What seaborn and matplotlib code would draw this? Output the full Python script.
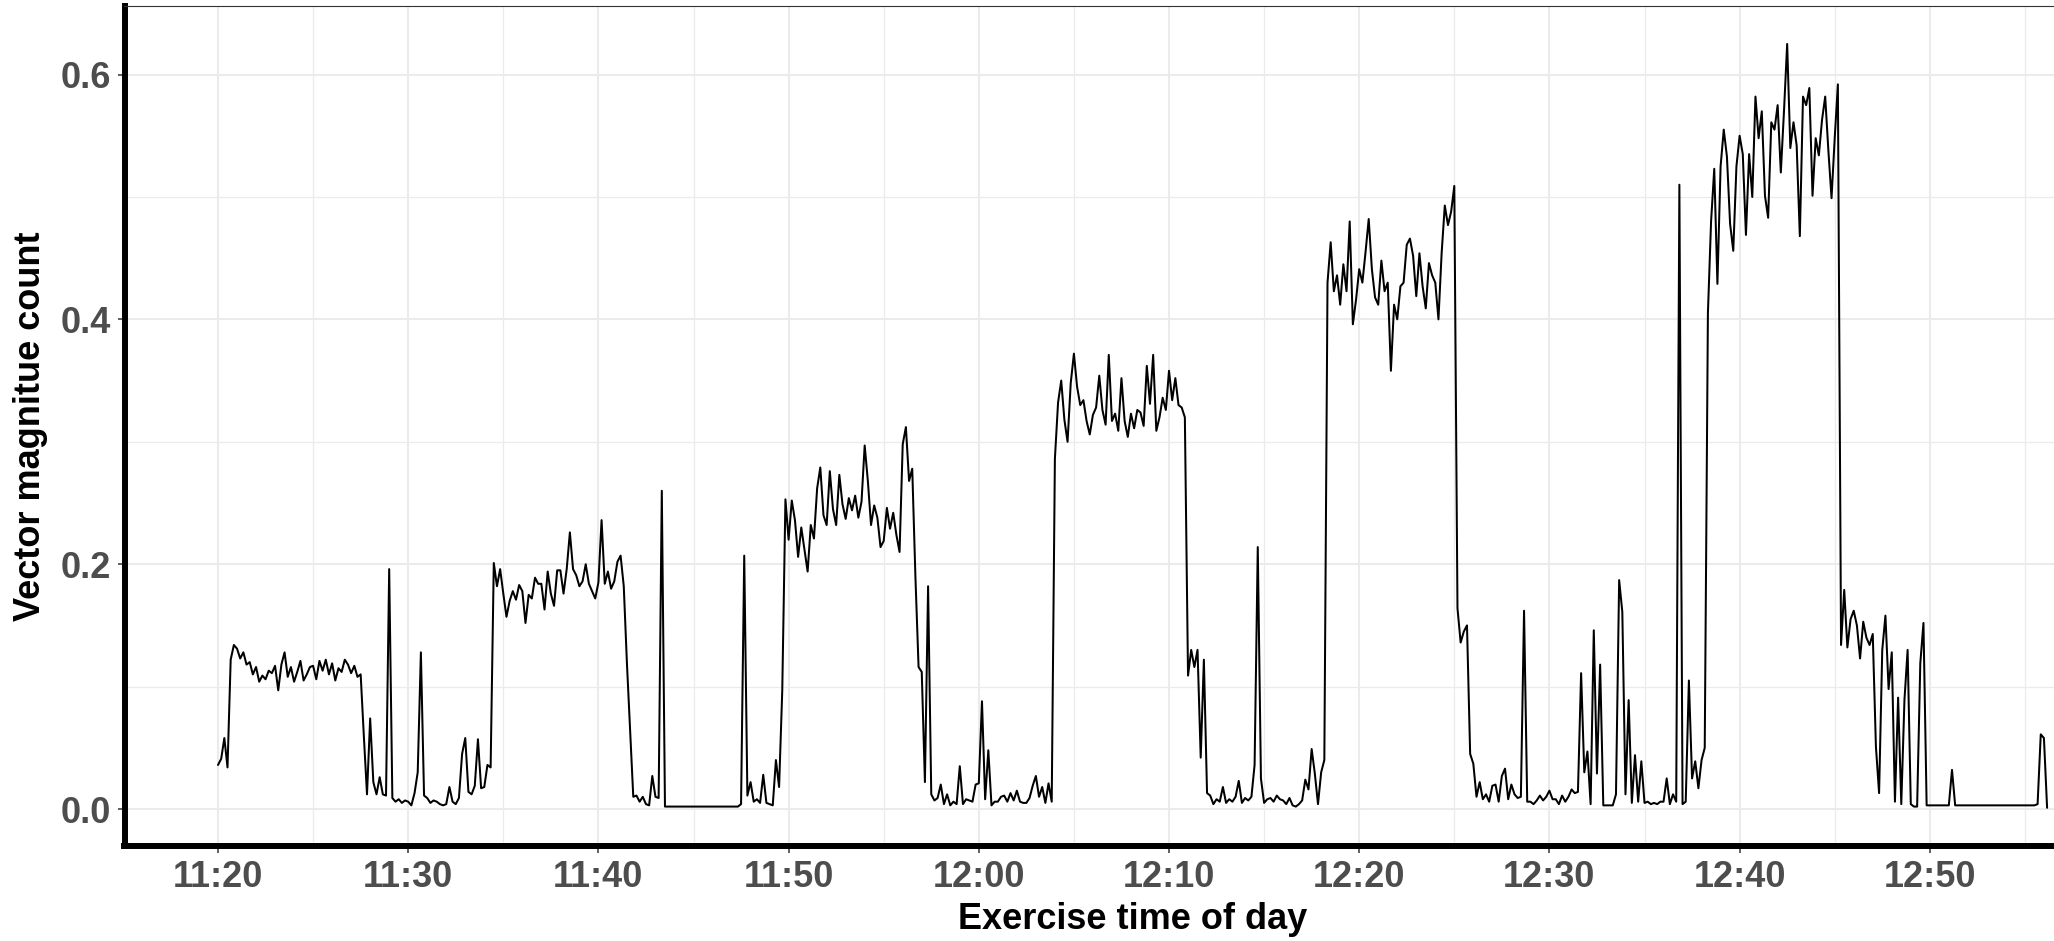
import numpy as np
import pandas as pd
import matplotlib
matplotlib.use('Agg')
import matplotlib.pyplot as plt
import matplotlib.dates as mdates
from matplotlib.ticker import FixedLocator, FormatStrFormatter
import seaborn as sns

# ---- data: vector magnitude counts, one value every 10 s from 11:20:00 ----
seg_1120 = [0.036, 0.041, 0.058, 0.034, 0.122, 0.134,
            0.131, 0.123, 0.128, 0.118, 0.120, 0.110,
            0.116, 0.104, 0.109, 0.106, 0.113, 0.111,
            0.117, 0.097, 0.118, 0.128, 0.108, 0.116,
            0.104, 0.112, 0.121, 0.105, 0.110, 0.116,
            0.117, 0.106, 0.121, 0.113, 0.122, 0.110,
            0.119, 0.105, 0.115, 0.112, 0.122, 0.118,
            0.111, 0.117, 0.108, 0.110, 0.060, 0.012,
            0.074, 0.022, 0.012, 0.026, 0.012, 0.011,
            0.196, 0.009, 0.006, 0.008, 0.005, 0.007]
seg_1130 = [0.006, 0.003, 0.013, 0.030, 0.128, 0.011,
            0.009, 0.005, 0.007, 0.006, 0.004, 0.003,
            0.004, 0.018, 0.006, 0.004, 0.009, 0.045,
            0.058, 0.014, 0.012, 0.019, 0.057, 0.017,
            0.018, 0.036, 0.034, 0.201, 0.182, 0.196,
            0.176, 0.157, 0.170, 0.178, 0.171, 0.183,
            0.178, 0.152, 0.175, 0.172, 0.189, 0.184,
            0.184, 0.163, 0.194, 0.176, 0.166, 0.195,
            0.195, 0.176, 0.196, 0.226, 0.196, 0.191,
            0.182, 0.186, 0.200, 0.184, 0.178, 0.172]
seg_1140 = [0.185, 0.236, 0.184, 0.194, 0.180, 0.186,
            0.202, 0.207, 0.182, 0.119, 0.065, 0.010,
            0.011, 0.006, 0.010, 0.004, 0.003, 0.027,
            0.010, 0.009, 0.260, 0.002, 0.002, 0.002,
            0.002, 0.002, 0.002, 0.002, 0.002, 0.002,
            0.002, 0.002, 0.002, 0.002, 0.002, 0.002,
            0.002, 0.002, 0.002, 0.002, 0.002, 0.002,
            0.002, 0.002, 0.002, 0.004, 0.207, 0.011,
            0.022, 0.006, 0.008, 0.005, 0.028, 0.005,
            0.004, 0.003, 0.040, 0.018, 0.097, 0.253]
seg_1150 = [0.220, 0.252, 0.236, 0.206, 0.230, 0.212,
            0.194, 0.232, 0.221, 0.262, 0.279, 0.240,
            0.232, 0.276, 0.245, 0.232, 0.273, 0.249,
            0.237, 0.254, 0.244, 0.256, 0.238, 0.251,
            0.297, 0.268, 0.232, 0.248, 0.238, 0.214,
            0.219, 0.246, 0.229, 0.242, 0.224, 0.210,
            0.298, 0.312, 0.268, 0.278, 0.190, 0.116,
            0.112, 0.022, 0.182, 0.012, 0.007, 0.009,
            0.020, 0.004, 0.012, 0.003, 0.006, 0.004,
            0.035, 0.004, 0.008, 0.007, 0.006, 0.020]
seg_1200 = [0.021, 0.088, 0.008, 0.048, 0.003, 0.006,
            0.006, 0.010, 0.011, 0.006, 0.013, 0.007,
            0.015, 0.006, 0.005, 0.005, 0.009, 0.019,
            0.027, 0.010, 0.018, 0.005, 0.021, 0.006,
            0.286, 0.332, 0.350, 0.318, 0.300, 0.348,
            0.372, 0.345, 0.330, 0.334, 0.317, 0.306,
            0.322, 0.328, 0.354, 0.326, 0.314, 0.371,
            0.317, 0.323, 0.309, 0.352, 0.317, 0.304,
            0.323, 0.311, 0.326, 0.324, 0.313, 0.362,
            0.331, 0.371, 0.309, 0.320, 0.336, 0.326]
seg_1210 = [0.358, 0.334, 0.352, 0.330, 0.328, 0.320,
            0.109, 0.130, 0.116, 0.130, 0.042, 0.122,
            0.013, 0.011, 0.004, 0.008, 0.006, 0.018,
            0.005, 0.008, 0.006, 0.010, 0.023, 0.005,
            0.009, 0.007, 0.010, 0.036, 0.214, 0.025,
            0.005, 0.008, 0.009, 0.006, 0.011, 0.008,
            0.007, 0.004, 0.009, 0.003, 0.002, 0.004,
            0.007, 0.024, 0.016, 0.049, 0.029, 0.004,
            0.030, 0.040, 0.430, 0.463, 0.423, 0.436,
            0.412, 0.445, 0.423, 0.480, 0.396, 0.416]
seg_1220 = [0.441, 0.430, 0.455, 0.482, 0.441, 0.418,
            0.412, 0.448, 0.423, 0.430, 0.358, 0.412,
            0.400, 0.427, 0.430, 0.461, 0.466, 0.452,
            0.419, 0.454, 0.427, 0.409, 0.446, 0.436,
            0.430, 0.400, 0.454, 0.493, 0.477, 0.488,
            0.509, 0.164, 0.136, 0.145, 0.150, 0.045,
            0.037, 0.010, 0.022, 0.008, 0.012, 0.006,
            0.019, 0.020, 0.006, 0.027, 0.033, 0.008,
            0.020, 0.012, 0.009, 0.010, 0.162, 0.006,
            0.006, 0.004, 0.007, 0.011, 0.007, 0.010]
seg_1230 = [0.015, 0.008, 0.008, 0.004, 0.011, 0.006,
            0.010, 0.016, 0.013, 0.014, 0.111, 0.030,
            0.047, 0.004, 0.146, 0.029, 0.118, 0.003,
            0.003, 0.003, 0.003, 0.012, 0.187, 0.161,
            0.012, 0.089, 0.005, 0.044, 0.006, 0.039,
            0.005, 0.006, 0.004, 0.005, 0.004, 0.006,
            0.006, 0.025, 0.004, 0.012, 0.006, 0.510,
            0.004, 0.006, 0.105, 0.025, 0.039, 0.017,
            0.040, 0.050, 0.405, 0.480, 0.523, 0.429,
            0.525, 0.555, 0.533, 0.478, 0.456, 0.525]
seg_1240 = [0.550, 0.535, 0.469, 0.535, 0.500, 0.582,
            0.548, 0.570, 0.501, 0.483, 0.561, 0.555,
            0.575, 0.520, 0.570, 0.625, 0.540, 0.561,
            0.542, 0.468, 0.582, 0.575, 0.589, 0.501,
            0.548, 0.534, 0.563, 0.582, 0.538, 0.499,
            0.548, 0.592, 0.134, 0.179, 0.132, 0.155,
            0.162, 0.150, 0.123, 0.153, 0.140, 0.134,
            0.143, 0.051, 0.013, 0.130, 0.158, 0.098,
            0.128, 0.006, 0.091, 0.004, 0.089, 0.130,
            0.004, 0.002, 0.002, 0.119, 0.152, 0.003]
seg_1250 = [0.003, 0.003, 0.003, 0.003, 0.003, 0.003,
            0.003, 0.032, 0.003, 0.003, 0.003, 0.003,
            0.003, 0.003, 0.003, 0.003, 0.003, 0.003,
            0.003, 0.003, 0.003, 0.003, 0.003, 0.003,
            0.003, 0.003, 0.003, 0.003, 0.003, 0.003,
            0.003, 0.003, 0.003, 0.003, 0.004, 0.061,
            0.058, 0.001]

start_time = '2021-01-01 11:20:00'
sample_step = '10s'
x_tick_times = ['11:20', '11:30', '11:40', '11:50', '12:00',
                '12:10', '12:20', '12:30', '12:40', '12:50']
y_ticks = [0.0, 0.2, 0.4, 0.6]
x_label = 'Exercise time of day'
y_label = 'Vector magnitue count'

values = (seg_1120 + seg_1130 + seg_1140 + seg_1150 + seg_1200 +
          seg_1210 + seg_1220 + seg_1230 + seg_1240 + seg_1250)
times = pd.date_range(start_time, periods=len(values), freq=sample_step)
df = pd.DataFrame({'time': times, 'vm': values})

# ---- style ----
sns.set_theme(style='white')
plt.rcParams['font.family'] = ['Liberation Sans', 'DejaVu Sans']

W, H = 2054, 941
fig = plt.figure(figsize=(W / 100, H / 100), dpi=100)
fig.patch.set_facecolor('white')
ax = fig.add_axes([124.5 / W, 1 - 846 / H, (2141.5 - 124.5) / W, (846 - 6) / H])
ax.set_facecolor('white')

sns.lineplot(data=df, x='time', y='vm', color='black', linewidth=1.45, ax=ax)

t0 = pd.Timestamp(start_time)
day = t0.strftime('%Y-%m-%d')
ax.set_xlim(t0 + pd.Timedelta(minutes=-4.916), t0 + pd.Timedelta(minutes=101.13))
ax.set_ylim(-0.0302, 0.656)

major_x = [pd.Timestamp(f'{day} {t}') for t in x_tick_times]
minor_x = [tt + pd.Timedelta(minutes=5) for tt in major_x]
ax.set_xticks(major_x)
ax.set_xticks(minor_x, minor=True)
ax.xaxis.set_major_formatter(mdates.DateFormatter('%H:%M'))
ax.yaxis.set_major_locator(FixedLocator(y_ticks))
ax.yaxis.set_minor_locator(FixedLocator([0.1, 0.3, 0.5]))
ax.yaxis.set_major_formatter(FormatStrFormatter('%.1f'))

ax.grid(which='major', color='#EBEBEB', linewidth=1.5)
ax.grid(which='minor', color='#EBEBEB', linewidth=0.9)
ax.set_axisbelow(True)

ax.tick_params(axis='both', which='major', direction='out', length=5, width=1.1,
               color='#333333', labelsize=26, labelcolor='#4D4D4D', pad=5,
               bottom=True, left=True)
ax.tick_params(which='minor', length=0)
for lab in ax.get_xticklabels() + ax.get_yticklabels():
    lab.set_fontweight('bold')

for side in ['left', 'bottom']:
    ax.spines[side].set_visible(True)
    ax.spines[side].set_color('black')
    ax.spines[side].set_linewidth(4.3)
ax.spines['top'].set_visible(True)
ax.spines['top'].set_color('#333333')
ax.spines['top'].set_linewidth(0.8)
ax.spines['right'].set_visible(False)

ax.set_xlabel(x_label, fontsize=26, fontweight='bold', color='black', labelpad=5)
ax.set_ylabel(y_label, fontsize=26, fontweight='bold', color='black', labelpad=9)

fig.savefig('out.png', dpi=100, facecolor='white')
